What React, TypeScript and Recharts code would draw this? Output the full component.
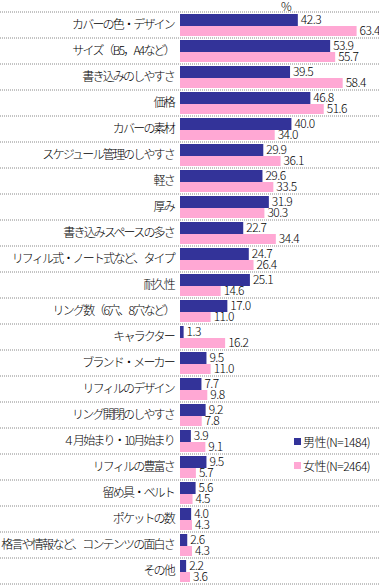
import React from 'react';
import { BarChart, Bar, XAxis, YAxis, CartesianGrid, LabelList, Legend } from 'recharts';

const categories = [
  'カバーの色・デザイン',
  'サイズ（B5，A4など）',
  '書き込みのしやすさ',
  '価格',
  'カバーの素材',
  'スケジュール管理のしやすさ',
  '軽さ',
  '厚み',
  '書き込みスペースの多さ',
  'リフィル式・ノート式など、タイプ',
  '耐久性',
  'リング数（6穴、8穴など）',
  'キャラクター',
  'ブランド・メーカー',
  'リフィルのデザイン',
  'リング開閉のしやすさ',
  '４月始まり・10月始まり',
  'リフィルの豊富さ',
  '留め具・ベルト',
  'ポケットの数',
  '格言や情報など、コンテンツの面白さ',
  'その他',
];

const male = [42.3, 53.9, 39.5, 46.8, 40.0, 29.9, 29.6, 31.9, 22.7, 24.7, 25.1, 17.0, 1.3, 9.5, 7.7, 9.2, 3.9, 9.5, 5.6, 4.0, 2.6, 2.2];
const female = [63.4, 55.7, 58.4, 51.6, 34.0, 36.1, 33.5, 30.3, 34.4, 26.4, 14.6, 11.0, 16.2, 11.0, 9.8, 7.8, 9.1, 5.7, 4.5, 4.3, 4.3, 3.6];

const seriesKeys = ['male', 'female'];
const seriesNames = ['男性(N=1484)', '女性(N=2464)'];
const colors = ['#333399', '#ffa8d4'];

const data = categories.map((c, i) => ({ name: c, male: male[i], female: female[i] }));

const FONT = '"Noto Sans CJK JP", "Noto Sans", sans-serif';

const renderLegend = () => (
  <div style={{ fontFamily: FONT }}>
    {seriesNames.map((name, i) => (
      <div key={i} style={{ display: 'flex', alignItems: 'center', height: 24 }}>
        <span style={{ display: 'inline-block', width: 7, height: 7, background: colors[i], marginRight: 2 }} />
        <span style={{ fontSize: 12, letterSpacing: -0.5, color: '#000', fontWeight: 300 }}>{name}</span>
      </div>
    ))}
  </div>
);

export default function App() {
  const n = categories.length;
  return (
    <div style={{ position: 'absolute', left: 0, top: 0, width: 379, height: 585, background: '#fff' }}>
      <BarChart
        width={379}
        height={585}
        data={data}
        layout="vertical"
        margin={{ top: 0, right: 4, bottom: 1, left: 0 }}
        barGap={0}
      >
        <CartesianGrid
          vertical={false}
          x={0}
          width={379}
          stroke="#888"
          strokeDasharray="1 1"
          horizontalCoordinatesGenerator={(args: any) => {
            const top = args?.offset?.top ?? 12;
            const h = args?.offset?.height ?? 572;
            const pts: number[] = [];
            for (let i = 0; i <= n; i++) pts.push(top + (i * h) / n);
            return pts;
          }}
        />
        <XAxis
          type="number"
          orientation="top"
          domain={[0, 70]}
          height={12}
          tick={false}
          axisLine={false}
          tickLine={false}
          label={{ value: '%', position: 'center', dx: 9, dy: 1, fontSize: 12, fill: '#000', fontFamily: FONT, fontWeight: 300 }}
        />
        <YAxis
          type="category"
          dataKey="name"
          width={180}
          axisLine={false}
          tickLine={false}
          tickSize={0}
          tickMargin={6}
          interval={0}
          tick={{ fontSize: 12, fill: '#000', fontFamily: FONT, letterSpacing: -1.8, fontWeight: 300 } as any}
        />
        <Legend
          layout="vertical"
          align="center"
          verticalAlign="middle"
          content={renderLegend}
          wrapperStyle={{ position: 'absolute', left: 294, top: 429, width: 85 }}
        />
        {seriesKeys.map((k, i) => (
          <Bar key={k} dataKey={k} name={seriesNames[i]} fill={colors[i]} barSize={i === 0 ? 12 : 10} isAnimationActive={false}>
            <LabelList
              dataKey={k}
              position="right"
              offset={3}
              formatter={(v: any) => Number(v).toFixed(1)}
              style={{ fontSize: 12, fill: '#000', fontFamily: FONT, letterSpacing: -0.5, fontWeight: 300 }}
            />
          </Bar>
        ))}
      </BarChart>
    </div>
  );
}
